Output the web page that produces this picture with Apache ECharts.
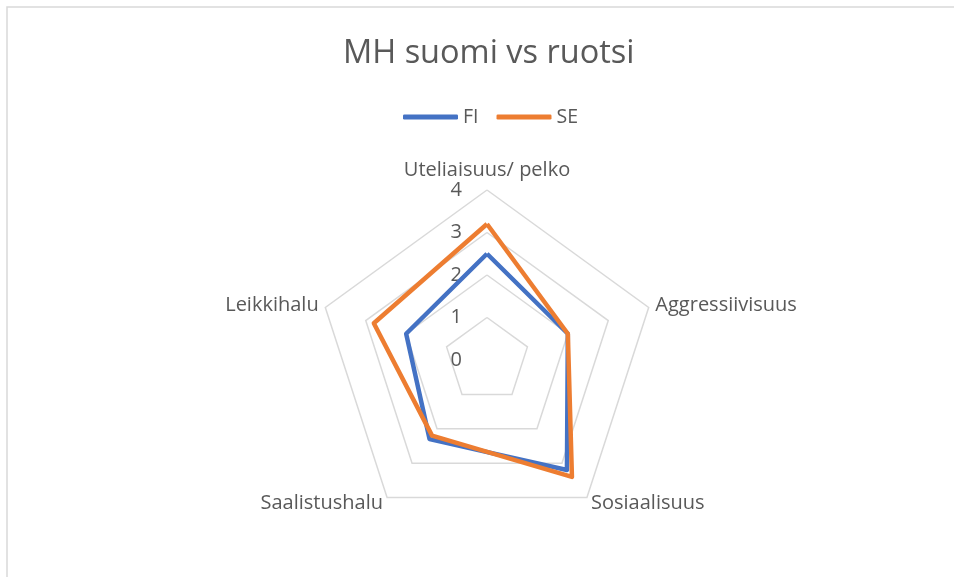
<!DOCTYPE html>
<html>
<head>
<meta charset="utf-8">
<script src="https://cdn.jsdelivr.net/npm/echarts@6/dist/echarts.min.js"></script>
<style>html,body{margin:0;padding:0;background:#fff}#c{width:954px;height:577px}</style>
</head>
<body>
<div id="c"></div>
<script>
// Categories in the reference's clockwise order, starting at the top
const categories = ['Uteliaisuus/ pelko', 'Aggressiivisuus', 'Sosiaalisuus', 'Saalistushalu', 'Leikkihalu'];
const fiValues = [2.5, 2.0, 3.2, 2.3, 2.0];
const seValues = [3.2, 2.0, 3.4, 2.2, 2.8];
const seriesNames = ['FI', 'SE'];
const axisMin = 0, axisMax = 4, axisStep = 1;

// ECharts lays radar indicators counter-clockwise; reorder to keep the reference's clockwise layout
const order = [0, 4, 3, 2, 1];
const reorder = arr => order.map(i => arr[i]);

const FONT = '"Open Sans", "Liberation Sans", sans-serif';
const TXT = '#595959';

const chart = echarts.init(document.getElementById('c'), null, {renderer: 'canvas'});
chart.setOption({
  animation: false,
  backgroundColor: '#ffffff',
  title: {
    text: 'MH suomi vs ruotsi',
    left: 338,
    top: 32,
    textStyle: {fontFamily: FONT, fontSize: 32.5, fontWeight: 'normal', color: TXT}
  },
  legend: {
    data: seriesNames,
    left: 398,
    top: 102,
    itemWidth: 55,
    itemHeight: 5,
    itemGap: 18,
    icon: 'roundRect',
    textStyle: {fontFamily: FONT, fontSize: 19.5, color: TXT, padding: [0, 0, 0, 0]}
  },
  graphic: [{
    type: 'rect',
    shape: {x: 7, y: 7, width: 1000, height: 1000},
    style: {fill: null, stroke: '#d9d9d9', lineWidth: 1.5},
    silent: true
  }],
  radar: {
    center: [487, 360],
    radius: 170,
    startAngle: 90,
    shape: 'polygon',
    splitNumber: 4,
    nameGap: 7,
    axisName: {fontFamily: FONT, fontSize: 20, color: TXT},
    indicator: reorder(categories).map((n, i) => {
      const o = {name: n, min: axisMin, max: axisMax, interval: axisStep};
      o.axisLabel = i === 0
        ? {show: true, fontFamily: FONT, fontSize: 20, color: TXT, margin: 25, padding: [11, 0, 0, 0]}
        : {show: false};
      return o;
    }),
    axisLine: {show: false},
    axisTick: {show: false},
    axisLabel: {show: false},
    splitLine: {lineStyle: {color: '#d9d9d9', width: 1.5}},
    splitArea: {show: false}
  },
  series: [{
    type: 'radar',
    symbol: 'none',
    data: [
      {name: seriesNames[0], value: reorder(fiValues),
       lineStyle: {color: '#4472C4', width: 4.5}, itemStyle: {color: '#4472C4'}},
      {name: seriesNames[1], value: reorder(seValues),
       lineStyle: {color: '#ED7D31', width: 4.5}, itemStyle: {color: '#ED7D31'}}
    ]
  }]
});
</script>
</body>
</html>
